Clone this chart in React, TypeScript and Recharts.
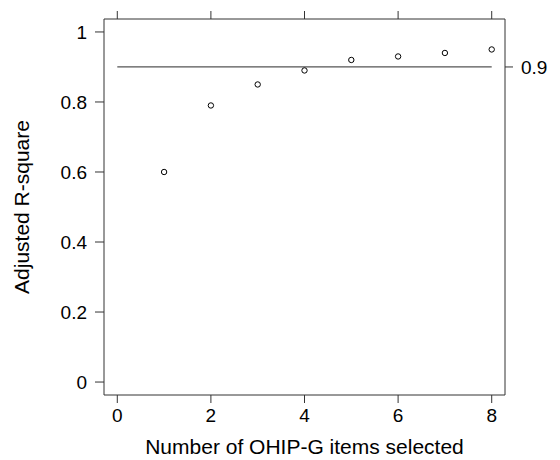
import React from "react";
import {
  ScatterChart,
  Scatter,
  XAxis,
  YAxis,
  ReferenceLine,
} from "recharts";

const itemsSelected = [1, 2, 3, 4, 5, 6, 7, 8];
const adjustedRSquare = [0.6, 0.79, 0.85, 0.89, 0.92, 0.93, 0.94, 0.95];
const xTicks = [0, 2, 4, 6, 8];
const yTicks = [0, 0.2, 0.4, 0.6, 0.8, 1];
const thresholdTicks = [0.9];
const threshold = 0.9;

const data = itemsSelected.map((x, i) => ({ x, y: adjustedRSquare[i] }));

const FONT = "'Liberation Sans', Arial, Helvetica, sans-serif";
const AX = "#333";

const Circle = (props: any) => {
  const { cx, cy } = props;
  if (cx == null || cy == null) return null;
  return <circle cx={cx} cy={cy} r={2.7} fill="none" stroke="#000" strokeWidth={1} />;
};

const fmtY = (v: number) => (v === 0 ? "0" : v === 1 ? "1" : String(v));

export default function App() {
  return (
    <div style={{ position: "absolute", left: 0, top: 0, width: 560, height: 460, background: "#fff" }}>
      <ScatterChart
        width={560}
        height={460}
        margin={{ top: 18, right: 5, bottom: 35, left: 44 }}
        style={{ fontFamily: FONT }}
      >
        <XAxis
          xAxisId="bottom"
          type="number"
          dataKey="x"
          orientation="bottom"
          domain={[-0.284, 8.284]}
          ticks={xTicks}
          allowDataOverflow
          height={30}
          tickSize={8}
          tickMargin={6}
          stroke={AX}
          tick={{ fill: "#000", fontSize: 19, fontFamily: FONT }}
          axisLine={{ stroke: AX }}
          tickLine={{ stroke: AX }}
          label={{
            value: "Number of OHIP-G items selected",
            position: "insideBottom",
            offset: -29,
            fill: "#000",
            fontSize: 21,
            fontFamily: FONT,
          }}
        />
        <XAxis
          xAxisId="top"
          type="number"
          dataKey="x"
          orientation="top"
          domain={[-0.284, 8.284]}
          ticks={xTicks}
          allowDataOverflow
          height={1}
          tickSize={8}
          stroke={AX}
          tick={() => <g />}
          axisLine={{ stroke: AX }}
          tickLine={{ stroke: AX }}
        />
        <YAxis
          yAxisId="left"
          type="number"
          dataKey="y"
          orientation="left"
          domain={[-0.037, 1.037]}
          ticks={yTicks}
          allowDataOverflow
          width={60}
          tickSize={9}
          tickMargin={8}
          tickFormatter={fmtY}
          stroke={AX}
          tick={{ fill: "#000", fontSize: 19, fontFamily: FONT }}
          axisLine={{ stroke: AX }}
          tickLine={{ stroke: AX }}
          label={{
            value: "Adjusted R-square",
            angle: -90,
            position: "insideLeft",
            offset: -22,
            style: { textAnchor: "middle" },
            fill: "#000",
            fontSize: 21,
            fontFamily: FONT,
          }}
        />
        <YAxis
          yAxisId="right"
          type="number"
          orientation="right"
          domain={[-0.037, 1.037]}
          ticks={thresholdTicks}
          allowDataOverflow
          width={50}
          tickSize={8}
          tickMargin={8}
          stroke={AX}
          tick={{ fill: "#000", fontSize: 19, fontFamily: FONT }}
          axisLine={{ stroke: AX }}
          tickLine={{ stroke: AX }}
        />
        <ReferenceLine
          xAxisId="bottom"
          yAxisId="left"
          segment={[
            { x: 0, y: threshold },
            { x: 8, y: threshold },
          ]}
          stroke="#555"
          strokeWidth={1.2}
          ifOverflow="visible"
        />
        <Scatter
          xAxisId="bottom"
          yAxisId="left"
          data={data}
          shape={<Circle />}
          isAnimationActive={false}
        />
      </ScatterChart>
    </div>
  );
}
